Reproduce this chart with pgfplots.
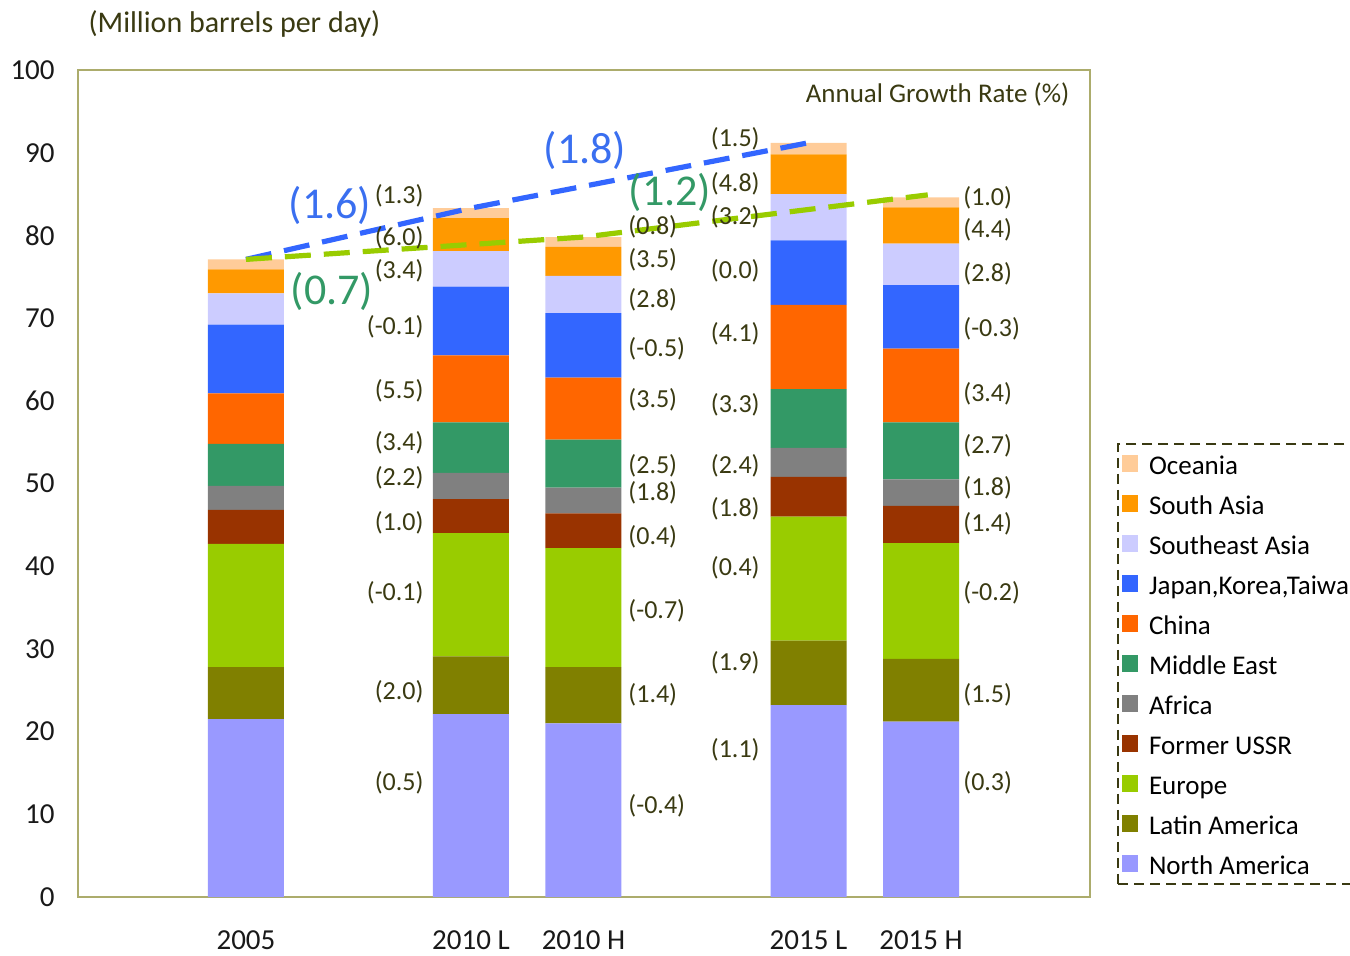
\documentclass[border=0pt]{standalone}
\usepackage{pgfplots}
\usepackage{pgfplotstable}
\pgfplotsset{compat=1.18}
\usepackage{fontspec}
\setmainfont{Carlito}
\definecolor{cNA}{HTML}{9999FF}
\definecolor{cLA}{HTML}{808000}
\definecolor{cEU}{HTML}{99CC00}
\definecolor{cFSU}{HTML}{993300}
\definecolor{cAF}{HTML}{808080}
\definecolor{cME}{HTML}{339966}
\definecolor{cCN}{HTML}{FF6600}
\definecolor{cJKT}{HTML}{3366FF}
\definecolor{cSEA}{HTML}{CCCCFF}
\definecolor{cSA}{HTML}{FF9900}
\definecolor{cOC}{HTML}{FFCC99}
\definecolor{txt}{HTML}{3A3A12}
\definecolor{frm}{RGB}{172,172,108}
\definecolor{bigblue}{HTML}{3A6FF0}
\definecolor{biggreen}{HTML}{339966}

\pgfplotstableread{
x NA LA EU FSU AF ME CN JKT SEA SA OC
0 21.5 6.3 14.9 4.1 2.9 5.1 6.1 8.3 3.8 2.9 1.2
2 22.1 7.0 14.9 4.1 3.2 6.1 8.1 8.3 4.3 4.0 1.2
3 21.0 6.8 14.4 4.2 3.1 5.8 7.5 7.8 4.5 3.5 1.2
5 23.2 7.8 15.0 4.8 3.5 7.1 10.2 7.8 5.6 4.8 1.4
6 21.2 7.6 14.0 4.5 3.2 6.9 8.9 7.7 5.0 4.4 1.2
}\datatable

\pgfplotstableread{
x y
0 77.1
2 83.3
5 91.2
}\blueline

\pgfplotstableread{
x y
0 77.1
3 79.8
6.06 84.9
}\greenline

\tikzset{
  lab/.style={text=txt, font=\fontsize{13}{15}\selectfont, inner sep=0pt},
  big/.style={font=\fontsize{22}{26}\selectfont, inner sep=0pt},
}

\begin{document}
\begin{tikzpicture}
\useasboundingbox (0,0) rectangle (675pt,477.5pt);
\clip (0,0) rectangle (675pt,477.5pt);
\begin{axis}[
  at={(39pt,29pt)}, anchor=south west,
  scale only axis, width=506pt, height=413.5pt,
  xmin=-1.493, xmax=7.502, ymin=0, ymax=100,
  ybar stacked, bar width=38pt,
  xtick={0,2,3,5,6}, xticklabels={2005,2010 L,2010 H,2015 L,2015 H},
  ytick={0,10,...,100},
  major tick length=0pt,
  axis line style={draw=frm, line width=1pt},
  /pgf/number format/assume math mode=true,
  tick label style={font=\fontsize{14.5}{16}\selectfont, text=black!90},
  xticklabel style={anchor=center, yshift=-21.5pt},
  yticklabel style={anchor=east, inner sep=0pt, xshift=-11.5pt},
  clip=false,
  reverse legend,
  legend cell align=left,
  legend style={at={(1.0267,0.549)}, anchor=north west,
    draw=txt, dashed, dash pattern=on 5pt off 3pt, line width=1pt,
    inner xsep=2pt, inner ysep=4pt, row sep=8pt,
    font=\fontsize{13.5}{15}\selectfont,
    nodes={inner xsep=2pt, inner ysep=0pt, text height=11.5pt, text depth=0.5pt, solid}},
  legend image code/.code={\fill[#1, draw=none] (0pt,-4pt) rectangle (8pt,4.5pt); \path (11.5pt,0pt);},
]
\addplot[fill=cNA, draw=none] table[x=x,y=NA] {\datatable};
\addlegendentry{North America}
\addplot[fill=cLA, draw=none] table[x=x,y=LA] {\datatable};
\addlegendentry{Latin America}
\addplot[fill=cEU, draw=none] table[x=x,y=EU] {\datatable};
\addlegendentry{Europe}
\addplot[fill=cFSU, draw=none] table[x=x,y=FSU] {\datatable};
\addlegendentry{Former USSR}
\addplot[fill=cAF, draw=none] table[x=x,y=AF] {\datatable};
\addlegendentry{Africa}
\addplot[fill=cME, draw=none] table[x=x,y=ME] {\datatable};
\addlegendentry{Middle East}
\addplot[fill=cCN, draw=none] table[x=x,y=CN] {\datatable};
\addlegendentry{China}
\addplot[fill=cJKT, draw=none] table[x=x,y=JKT] {\datatable};
\addlegendentry{Japan,Korea,Taiwan}
\addplot[fill=cSEA, draw=none] table[x=x,y=SEA] {\datatable};
\addlegendentry{Southeast Asia}
\addplot[fill=cSA, draw=none] table[x=x,y=SA] {\datatable};
\addlegendentry{South Asia}
\addplot[fill=cOC, draw=none] table[x=x,y=OC] {\datatable};
\addlegendentry{Oceania}
\end{axis}

\begin{axis}[
  at={(39pt,29pt)}, anchor=south west,
  scale only axis, width=506pt, height=413.5pt,
  xmin=-1.493, xmax=7.502, ymin=0, ymax=100,
  hide axis, clip=false,
]
\addplot[cJKT, line width=2.6pt, dash pattern=on 13pt off 6.5pt, mark=none] table[x=x,y=y] {\blueline};
\addplot[cEU, line width=2.6pt, dash pattern=on 13pt off 6.5pt, mark=none] table[x=x,y=y] {\greenline};

% 2010 L labels
\node[lab, anchor=east] at (axis cs:1.582,84.8) {(1.3)};
\node[lab, anchor=east] at (axis cs:1.582,79.7) {(6.0)};
\node[lab, anchor=east] at (axis cs:1.582,75.7) {(3.4)};
\node[lab, anchor=east] at (axis cs:1.582,68.9) {(-0.1)};
\node[lab, anchor=east] at (axis cs:1.582,61.2) {(5.5)};
\node[lab, anchor=east] at (axis cs:1.582,54.9) {(3.4)};
\node[lab, anchor=east] at (axis cs:1.582,50.7) {(2.2)};
\node[lab, anchor=east] at (axis cs:1.582,45.3) {(1.0)};
\node[lab, anchor=east] at (axis cs:1.582,36.8) {(-0.1)};
\node[lab, anchor=east] at (axis cs:1.582,24.8) {(2.0)};
\node[lab, anchor=east] at (axis cs:1.582,13.8) {(0.5)};
% 2010 H labels
\node[lab, anchor=west] at (axis cs:3.396,81.0) {(0.8)};
\node[lab, anchor=west] at (axis cs:3.396,77.0) {(3.5)};
\node[lab, anchor=west] at (axis cs:3.396,72.2) {(2.8)};
\node[lab, anchor=west] at (axis cs:3.396,66.3) {(-0.5)};
\node[lab, anchor=west] at (axis cs:3.396,60.1) {(3.5)};
\node[lab, anchor=west] at (axis cs:3.396,52.1) {(2.5)};
\node[lab, anchor=west] at (axis cs:3.396,48.9) {(1.8)};
\node[lab, anchor=west] at (axis cs:3.396,43.5) {(0.4)};
\node[lab, anchor=west] at (axis cs:3.396,34.6) {(-0.7)};
\node[lab, anchor=west] at (axis cs:3.396,24.4) {(1.4)};
\node[lab, anchor=west] at (axis cs:3.396,11.0) {(-0.4)};
% 2015 L labels
\node[lab, anchor=east] at (axis cs:4.569,91.7) {(1.5)};
\node[lab, anchor=east] at (axis cs:4.569,86.3) {(4.8)};
\node[lab, anchor=east] at (axis cs:4.569,82.3) {(3.2)};
\node[lab, anchor=east] at (axis cs:4.569,75.7) {(0.0)};
\node[lab, anchor=east] at (axis cs:4.569,68.1) {(4.1)};
\node[lab, anchor=east] at (axis cs:4.569,59.5) {(3.3)};
\node[lab, anchor=east] at (axis cs:4.569,52.1) {(2.4)};
\node[lab, anchor=east] at (axis cs:4.569,46.9) {(1.8)};
\node[lab, anchor=east] at (axis cs:4.569,39.8) {(0.4)};
\node[lab, anchor=east] at (axis cs:4.569,28.3) {(1.9)};
\node[lab, anchor=east] at (axis cs:4.569,17.8) {(1.1)};
% 2015 H labels
\node[lab, anchor=west] at (axis cs:6.373,84.5) {(1.0)};
\node[lab, anchor=west] at (axis cs:6.373,80.7) {(4.4)};
\node[lab, anchor=west] at (axis cs:6.373,75.3) {(2.8)};
\node[lab, anchor=west] at (axis cs:6.373,68.7) {(-0.3)};
\node[lab, anchor=west] at (axis cs:6.373,60.9) {(3.4)};
\node[lab, anchor=west] at (axis cs:6.373,54.5) {(2.7)};
\node[lab, anchor=west] at (axis cs:6.373,49.5) {(1.8)};
\node[lab, anchor=west] at (axis cs:6.373,45.1) {(1.4)};
\node[lab, anchor=west] at (axis cs:6.373,36.8) {(-0.2)};
\node[lab, anchor=west] at (axis cs:6.373,24.5) {(1.5)};
\node[lab, anchor=west] at (axis cs:6.373,13.8) {(0.3)};

% big growth labels
\node[big, text=bigblue] at (axis cs:0.747,83.6) {(1.6)};
\node[big, text=bigblue] at (axis cs:3.013,90.3) {(1.8)};
\node[big, text=biggreen] at (axis cs:0.764,73.2) {(0.7)};
\node[big, text=biggreen] at (axis cs:3.769,85.2) {(1.2)};

% titles
\node[anchor=east, text=txt, font=\fontsize{13.5}{16}\selectfont, inner sep=0pt] at (rel axis cs:0.980,0.970) {Annual Growth Rate (\%)};
\node[anchor=west, text=txt, font=\fontsize{15}{18}\selectfont, inner sep=0pt] at (rel axis cs:0.010,1.0556) {(Million barrels per day)};
\end{axis}
\end{tikzpicture}
\end{document}
